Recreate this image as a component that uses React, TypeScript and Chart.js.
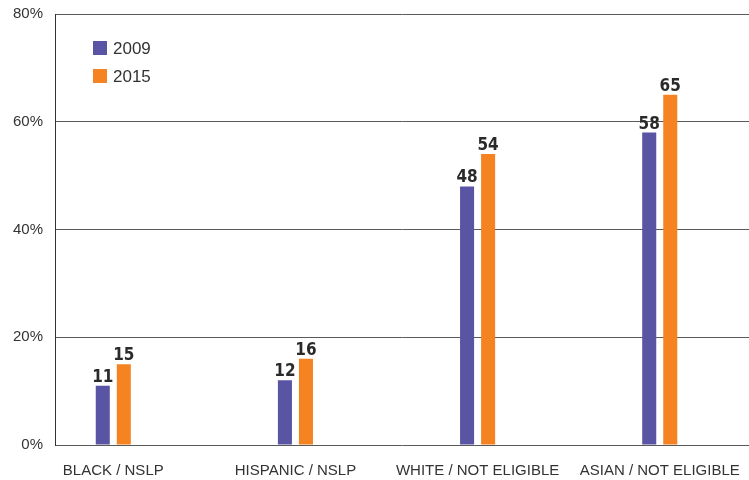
import React, { useEffect, useRef } from "react";
import { Chart, registerables } from "chart.js";

Chart.register(...registerables);

const categories = ["BLACK / NSLP", "HISPANIC / NSLP", "WHITE / NOT ELIGIBLE", "ASIAN / NOT ELIGIBLE"];
const seriesNames = ["2009", "2015"];
const values2009 = [11, 12, 48, 58];
const values2015 = [15, 16, 54, 65];
const yTicks = [0, 20, 40, 60, 80];

const PURPLE = "#5954a3";
const ORANGE = "#f58322";
const TEXT = "#333333";
const LABEL_FONT = "'Liberation Sans Narrow', 'DejaVu Sans Condensed', 'Liberation Sans', sans-serif";
const BASE_FONT = "'Liberation Sans', Arial, sans-serif";

const valueLabelPlugin = {
  id: "valueLabels",
  afterDatasetsDraw(chart: any) {
    const ctx = chart.ctx;
    ctx.save();
    ctx.font = `bold 17px ${LABEL_FONT}`;
    ctx.fillStyle = "#2a2a2a";
    ctx.textAlign = "center";
    ctx.textBaseline = "alphabetic";
    chart.data.datasets.forEach((ds: any, di: number) => {
      const meta = chart.getDatasetMeta(di);
      meta.data.forEach((bar: any, i: number) => {
        ctx.fillText(String(ds.data[i]), bar.x, bar.y - 4);
      });
    });
    ctx.restore();
  },
};

const innerLegendPlugin = {
  id: "innerLegend",
  afterDraw(chart: any) {
    const ctx = chart.ctx;
    const area = chart.chartArea;
    ctx.save();
    ctx.font = `17px ${BASE_FONT}`;
    ctx.textBaseline = "middle";
    ctx.textAlign = "left";
    chart.data.datasets.forEach((ds: any, i: number) => {
      const x = area.left + 38;
      const y = area.top + 27 + i * 28;
      ctx.fillStyle = ds.backgroundColor;
      ctx.fillRect(x, y, 14, 14);
      ctx.fillStyle = TEXT;
      ctx.fillText(ds.label, x + 20, y + 8);
    });
    ctx.restore();
  },
};

export default function App() {
  const canvasRef = useRef<HTMLCanvasElement | null>(null);

  useEffect(() => {
    if (!canvasRef.current) return;
    const chart = new Chart(canvasRef.current, {
      type: "bar",
      data: {
        labels: categories,
        datasets: [
          { label: seriesNames[0], data: values2009, backgroundColor: PURPLE },
          { label: seriesNames[1], data: values2015, backgroundColor: ORANGE },
        ],
      },
      options: {
        responsive: true,
        maintainAspectRatio: false,
        animation: false,
        layout: { padding: { top: 14, right: 0, bottom: 0, left: 0 } },
        datasets: {
          bar: { categoryPercentage: 0.231, barPercentage: 0.667 },
        },
        plugins: {
          legend: { display: false },
          tooltip: { enabled: false },
        },
        scales: {
          x: {
            type: "category",
            offset: true,
            grid: { display: false, drawTicks: false },
            border: { display: false },
            ticks: {
              color: TEXT,
              font: { family: BASE_FONT, size: 15 },
              padding: 17,
              maxRotation: 0,
              autoSkip: false,
            },
            afterFit: (s: any) => {
              s.height = 35;
              s.paddingLeft = 0;
              s.paddingRight = 0;
            },
            afterBuildTicks: (s: any) => {
              s._startValue = -0.32;
              s._valueRange = 3.81;
            },
          },
          y: {
            min: 0,
            max: 80,
            afterBuildTicks: (s: any) => {
              s.ticks = yTicks.map((v) => ({ value: v }));
            },
            grid: { color: "#5a5a5a", lineWidth: 1, drawTicks: false },
            border: { display: true, color: "#333333", width: 1 },
            ticks: {
              color: TEXT,
              font: { family: BASE_FONT, size: 15 },
              padding: 12,
              callback: (v: any) => `${v}%`,
            },
            afterFit: (s: any) => {
              s.width = 55;
              s.paddingTop = 0;
              s.paddingBottom = 0;
            },
          },
        },
      },
      plugins: [valueLabelPlugin, innerLegendPlugin],
    });
    return () => chart.destroy();
  }, []);

  return (
    <div style={{ position: "absolute", left: 0, top: 0, width: 749, height: 480, background: "#ffffff" }}>
      <canvas ref={canvasRef} />
    </div>
  );
}
